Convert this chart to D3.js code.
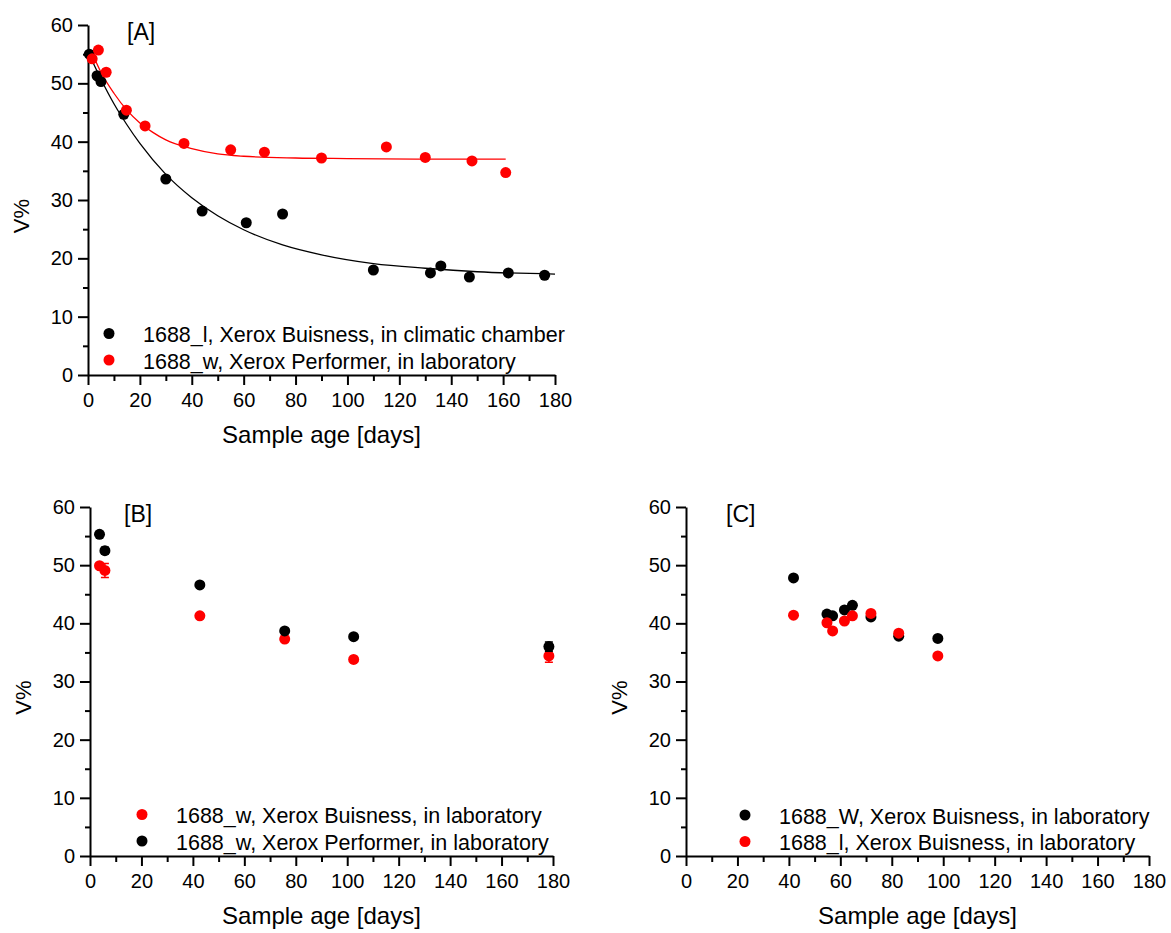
<!DOCTYPE html>
<html>
<head>
<meta charset="utf-8">
<script src="https://cdn.jsdelivr.net/npm/d3@7"></script>
<style>
  body { margin: 0; background: #fff; }
  svg { font-family: 'Liberation Sans', Arial, sans-serif; }
</style>
</head>
<body>
<div class="svg"></div>
<script>
const width = 1171
const height = 933

// Panel A data
const aBlackDays = [0.5, 3.5, 5, 13.8, 30, 44, 61, 75, 110, 132, 136, 147, 162, 176]
const aBlackV = [55.0, 51.3, 50.3, 44.7, 33.6, 28.1, 26.1, 27.6, 18.0, 17.5, 18.7, 16.8, 17.5, 17.1]
const aRedDays = [1.6, 4, 7, 14.8, 22, 37, 55, 68, 90, 115, 130, 148, 161]
const aRedV = [54.2, 55.7, 51.9, 45.4, 42.7, 39.7, 38.6, 38.2, 37.2, 39.1, 37.3, 36.7, 34.7]
// fitted curves
const aBlackFitDays = [0, 5, 10, 15, 20, 30, 40, 50, 60, 75, 90, 110, 130, 150, 180]
const aBlackFitV = [55.4, 50.7, 46.5, 42.9, 39.7, 34.4, 30.4, 27.3, 24.9, 22.3, 20.6, 19.1, 18.3, 17.7, 17.3]
const aRedFitDays = [1.5, 5, 10, 15, 20, 25, 30, 40, 50, 60, 80, 100, 130, 161]
const aRedFitV = [55.3, 51.9, 48.3, 45.4, 43.2, 41.6, 40.3, 38.8, 37.9, 37.5, 37.2, 37.1, 37.0, 37.0]

// Panel B data
const bDays = [3.7, 5.8, 42.7, 75.7, 102.5, 178.4]
const bRedV = [49.9, 49.1, 41.3, 37.3, 33.8, 34.4]
const bRedErr = [0, 1.2, 0, 0, 0, 1.1]
const bBlackV = [55.3, 52.5, 46.6, 38.7, 37.7, 36.0]
const bBlackErr = [0, 0.6, 0, 0, 0, 0.8]

// Panel C data
const cDays = [41.8, 54.8, 57, 61.6, 64.7, 71.9, 82.7, 97.9]
const cBlackV = [47.8, 41.6, 41.3, 42.3, 43.1, 41.1, 37.8, 37.4]
const cRedV = [41.4, 40.1, 38.7, 40.4, 41.3, 41.7, 38.3, 34.4]

// Axis ticks
const xMajor = [0, 20, 40, 60, 80, 100, 120, 140, 160, 180]
const xMinor = [10, 30, 50, 70, 90, 110, 130, 150, 170]
const yMajor = [0, 10, 20, 30, 40, 50, 60]
const yMinor = [5, 15, 25, 35, 45, 55]

const svg = d3
  .select('.svg')
  .append('svg')
  .attr('width', width)
  .attr('height', height)

const RED = '#ff0000'
const BLACK = '#000000'

function drawPanel(p) {
  const x = d3.scaleLinear().domain([0, 180]).range([p.x0, p.x1])
  const y = d3.scaleLinear().domain([0, 60]).range([p.y0, p.y1])
  const g = svg.append('g')

  // minor ticks
  g.append('g')
    .attr('transform', 'translate(' + p.x0 + ',0)')
    .call(d3.axisLeft(y).tickValues(yMinor).tickSize(5).tickFormat(''))
    .call(s => s.select('.domain').remove())
  g.append('g')
    .attr('transform', 'translate(0,' + p.y0 + ')')
    .call(d3.axisBottom(x).tickValues(xMinor).tickSize(6).tickFormat(''))
    .call(s => s.select('.domain').remove())

  // major axes
  g.append('g')
    .attr('transform', 'translate(' + p.x0 + ',0)')
    .call(d3.axisLeft(y).tickValues(yMajor).tickSize(10).tickSizeOuter(0).tickPadding(5))
  g.append('g')
    .attr('transform', 'translate(0,' + p.y0 + ')')
    .call(d3.axisBottom(x).tickValues(xMajor).tickSize(10).tickSizeOuter(0).tickPadding(8))

  g.selectAll('.domain, .tick line').attr('stroke', '#000').attr('stroke-width', 2)
  g.selectAll('.tick text').attr('font-size', 20).attr('font-family', null).attr('fill', '#000')

  // axis titles
  g.append('text')
    .attr('x', (p.x0 + p.x1) / 2)
    .attr('y', p.y0 + 68)
    .attr('text-anchor', 'middle')
    .attr('font-size', 24)
    .text('Sample age [days]')
  g.append('text')
    .attr('transform', 'translate(' + (p.x0 - 59) + ',' + ((p.y0 + p.y1) / 2 + 16) + ') rotate(-90)')
    .attr('text-anchor', 'middle')
    .attr('font-size', 22)
    .text('V%')

  // panel label
  g.append('text')
    .attr('x', p.x0 + p.labelDx)
    .attr('y', p.y1 + 15)
    .attr('font-size', 23)
    .text(p.label)

  // fitted lines
  const line = d3.line().x(d => x(d[0])).y(d => y(d[1])).curve(d3.curveMonotoneX)
  ;(p.lines || []).forEach(l => {
    g.append('path')
      .attr('d', line(d3.zip(l.days, l.v)))
      .attr('fill', 'none')
      .attr('stroke', l.color)
      .attr('stroke-width', 1.3)
  })

  // series
  p.series.forEach(s => {
    const data = d3.zip(s.days, s.v, s.err || s.days.map(() => 0))
    g.selectAll(null)
      .data(data.filter(d => d[2] > 0))
      .enter()
      .append('path')
      .attr('d', d => {
        const cx = x(d[0]), top = y(d[1] + d[2]), bot = y(d[1] - d[2])
        return 'M' + (cx - 4) + ',' + top + 'H' + (cx + 4) + 'M' + cx + ',' + top +
          'V' + bot + 'M' + (cx - 4) + ',' + bot + 'H' + (cx + 4)
      })
      .attr('stroke', s.color)
      .attr('stroke-width', 1.5)
      .attr('fill', 'none')
    g.selectAll(null)
      .data(data)
      .enter()
      .append('circle')
      .attr('cx', d => x(d[0]))
      .attr('cy', d => y(d[1]))
      .attr('r', 5.5)
      .attr('fill', s.color)
  })

  // legend
  p.legend.forEach((l, i) => {
    const ly = p.legendY + i * 26.5
    g.append('circle')
      .attr('cx', p.x0 + p.legendDx)
      .attr('cy', ly)
      .attr('r', 5.5)
      .attr('fill', l.color)
    g.append('text')
      .attr('x', p.x0 + p.legendDx + 34)
      .attr('y', ly + 8.5)
      .attr('font-size', 21.5)
      .text(l.text)
  })
}

drawPanel({
  x0: 88, x1: 555, y0: 375, y1: 25, label: '[A]', labelDx: 39,
  lines: [
    { days: aBlackFitDays, v: aBlackFitV, color: BLACK },
    { days: aRedFitDays, v: aRedFitV, color: RED }
  ],
  series: [
    { days: aBlackDays, v: aBlackV, color: BLACK },
    { days: aRedDays, v: aRedV, color: RED }
  ],
  legendY: 333.5, legendDx: 21,
  legend: [
    { color: BLACK, text: '1688_l, Xerox Buisness, in climatic chamber' },
    { color: RED, text: '1688_w, Xerox Performer, in laboratory' }
  ]
})

drawPanel({
  x0: 90, x1: 553, y0: 856, y1: 507, label: '[B]', labelDx: 34,
  series: [
    { days: bDays, v: bRedV, err: bRedErr, color: RED },
    { days: bDays, v: bBlackV, err: bBlackErr, color: BLACK }
  ],
  legendY: 814.5, legendDx: 52,
  legend: [
    { color: RED, text: '1688_w, Xerox Buisness, in laboratory' },
    { color: BLACK, text: '1688_w, Xerox Performer, in laboratory' }
  ]
})

drawPanel({
  x0: 686, x1: 1149, y0: 856, y1: 507, label: '[C]', labelDx: 40,
  series: [
    { days: cDays, v: cBlackV, color: BLACK },
    { days: cDays, v: cRedV, color: RED }
  ],
  legendY: 815, legendDx: 59,
  legend: [
    { color: BLACK, text: '1688_W, Xerox Buisness, in laboratory' },
    { color: RED, text: '1688_l, Xerox Buisness, in laboratory' }
  ]
})
</script>
</body>
</html>
